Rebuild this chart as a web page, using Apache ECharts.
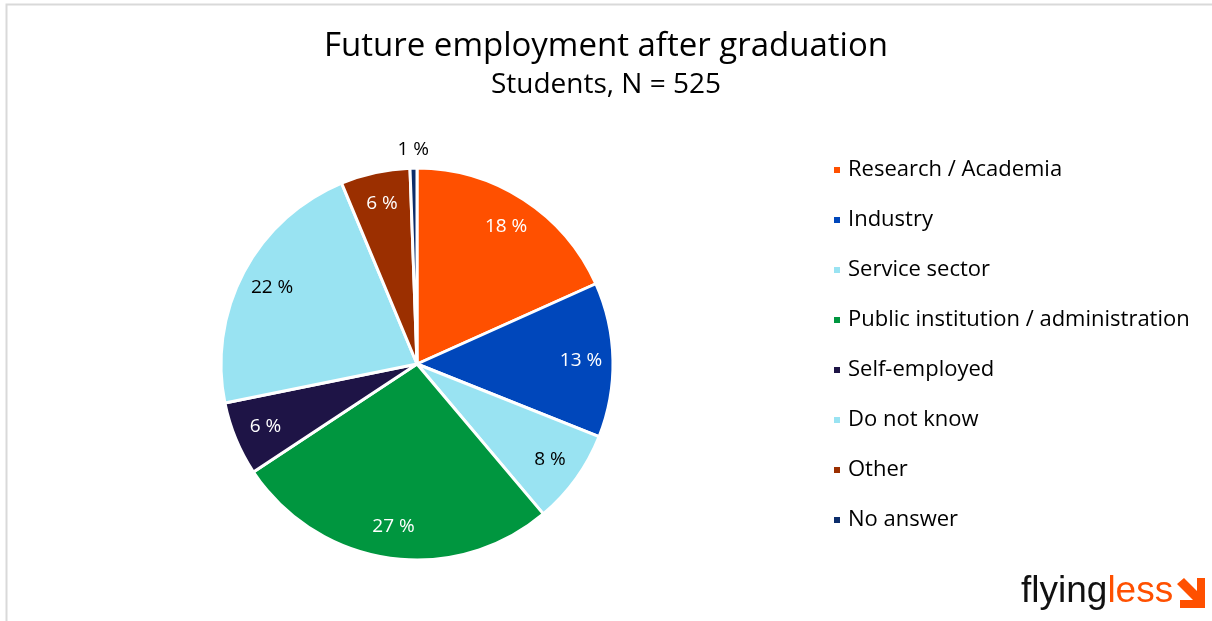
<!DOCTYPE html>
<html><head><meta charset="utf-8">
<script src="https://cdn.jsdelivr.net/npm/echarts@6/dist/echarts.min.js"></script>
<style>html,body{margin:0;padding:0;background:#fff}#c{width:1212px;height:621px}</style>
</head><body><div id="c"></div>
<script>
const categories = ['Research / Academia','Industry','Service sector','Public institution / administration','Self-employed','Do not know','Other','No answer'];
const counts = [96, 67, 41, 141, 32, 115, 30, 3];
const colors = ['#FF5000','#0047BB','#99E3F2','#00963F','#1E1446','#99E3F2','#9B2F00','#0C2D6B'];
const labelColors = ['#fff','#fff','#000','#fff','#fff','#000','#fff','#000'];
const total = counts.reduce((a,b)=>a+b,0);
const FONT = 'Open Sans';
const center = [417, 364];
const R = 196;
const pct = p => Math.round(p.value/total*100)+' %';
const lastIdx = counts.length-1;

const mainData = categories.map((c,i)=>({name:c, value:counts[i], itemStyle:{color:colors[i]}}));
const innerLabelData = categories.map((c,i)=>({name:c, value:counts[i],
  itemStyle:{color:'rgba(0,0,0,0)', borderWidth:0},
  label:{show:i!==lastIdx, color:labelColors[i]}}));
const outerLabelData = categories.map((c,i)=>({name:c, value:counts[i],
  itemStyle:{color:'rgba(0,0,0,0)', borderWidth:0},
  label:{show:i===lastIdx, color:'#000'}}));

const chart = echarts.init(document.getElementById('c'));
chart.setOption({
  animation:false,
  title:{
    text:'Future employment after graduation',
    subtext:'Students, N = 525',
    left:'center', top:25, itemGap:8,
    textStyle:{fontFamily:FONT, fontSize:33, fontWeight:'normal', color:'#000'},
    subtextStyle:{fontFamily:FONT, fontSize:28, color:'#000'}
  },
  legend:{
    orient:'vertical', left:827, top:154, itemGap:28,
    icon:'rect', itemWidth:8, itemHeight:8,
    textStyle:{fontFamily:FONT, fontSize:22, lineHeight:22, color:'#000', padding:[0,0,0,2]},
    data:categories
  },
  graphic:[
    {type:'rect', shape:{x:6.5, y:4.5, width:1300, height:700}, style:{fill:'none', stroke:'#d9d9d9', lineWidth:2}, silent:true},
    {type:'text', left:1021, top:573, style:{
      text:'{a|flying}{b|less}',
      rich:{
        a:{fontFamily:'Liberation Sans', fontSize:37, fill:'#111'},
        b:{fontFamily:'Liberation Sans', fontSize:37, fill:'#FF5000'}
      }}},
    {type:'polygon', silent:true, shape:{points:[[1177,584],[1184,578],[1197,591],[1197,578],[1205,578],[1205,608],[1180,608],[1180,600],[1193,600]]},
     style:{fill:'#FF5000'}}
  ],
  series:[
    {type:'pie', center:center, radius:[0,R], startAngle:90, clockwise:true,
     silent:true, label:{show:false}, labelLine:{show:false},
     itemStyle:{borderColor:'#fff', borderWidth:3},
     data:mainData},
    {type:'pie', center:center, radius:[R-70,R], startAngle:90, clockwise:true,
     silent:true, legendHoverLink:false,
     label:{position:'inside', fontFamily:FONT, fontSize:19, formatter:pct},
     labelLine:{show:false},
     data:innerLabelData},
    {type:'pie', center:center, radius:[R,R+30], startAngle:90, clockwise:true,
     silent:true, legendHoverLink:false,
     label:{position:'inside', fontFamily:FONT, fontSize:19, formatter:pct},
     labelLine:{show:false},
     data:outerLabelData}
  ]
});
</script></body></html>
